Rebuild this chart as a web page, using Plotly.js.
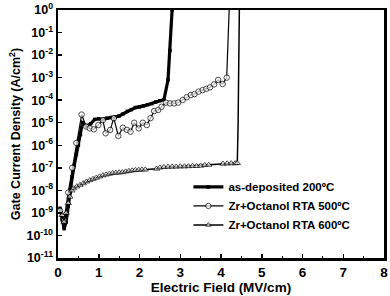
<!DOCTYPE html>
<html>
<head>
<meta charset="utf-8">
<script src="https://cdn.plot.ly/plotly-3.0.1.min.js"></script>
<style>
  html, body { margin: 0; padding: 0; background: #fff; }
  #chart { width: 390px; height: 296px; }
</style>
</head>
<body>
<div id="chart"></div>
<script>
// Gate leakage current density vs. electric field for three film treatments

// as-deposited 200 °C
const fieldAsDep = [0.05, 0.1, 0.15, 0.2, 0.25, 0.3, 0.35, 0.4, 0.45, 0.5, 0.55, 0.6, 0.7, 0.8, 0.9, 1.0,
  1.1, 1.2, 1.3, 1.4, 1.5, 1.6, 1.7, 1.8, 1.9, 2.0, 2.1, 2.2, 2.3, 2.4, 2.5, 2.6, 2.7, 2.75, 2.8];
const jAsDep = [1.6e-9, 5e-10, 2e-10, 4e-10, 2e-9, 1e-8, 4e-8, 1.3e-7, 4e-7, 1e-6, 3e-6, 1e-5, 7e-6, 9e-6, 1.4e-5, 1.5e-5,
  1.4e-5, 1.6e-5, 1.7e-5, 1.8e-5, 2e-5, 2.5e-5, 3.2e-5, 3.8e-5, 4.7e-5, 5e-5, 5.6e-5, 6.3e-5, 7e-5, 8.3e-5, 9.5e-5, 1.05e-4, 8e-4, 1.6e-2, 1];

// Zr+Octanol RTA 500 °C
const field500 = [0.05, 0.15, 0.25, 0.35, 0.45, 0.58, 0.69, 0.78, 0.88, 0.99, 1.10, 1.17, 1.28, 1.37, 1.48, 1.59,
  1.69, 1.78, 1.87, 1.98, 2.08, 2.18, 2.27, 2.36, 2.46, 2.54, 2.65, 2.75, 2.85, 2.95, 3.06, 3.16, 3.26, 3.35,
  3.45, 3.55, 3.64, 3.73, 3.83, 3.93, 4.04, 4.14, 4.2];
const j500 = [1.26e-9, 5e-10, 8e-9, 1e-7, 1.26e-6, 2.3e-5, 6.8e-6, 5.6e-6, 5.1e-6, 7.9e-6, 1.3e-5, 3.4e-6, 4.8e-6, 1.6e-5, 2.6e-6, 6e-6,
  4.8e-6, 4e-6, 1e-5, 5.6e-6, 1e-5, 7.9e-6, 1.6e-5, 3.3e-5, 3.7e-5, 5.1e-5, 7.8e-5, 7.2e-5, 7.2e-5, 7.8e-5, 1.02e-4, 1.35e-4, 1.7e-4, 1.86e-4,
  2.4e-4, 2.8e-4, 3.2e-4, 3.7e-4, 5e-4, 7.9e-4, 5.2e-4, 1e-3, 1];
const marked500 = [1, 1, 1, 1, 1, 1, 1, 1, 1, 1, 1, 1, 1, 1, 1, 1, 1, 1, 1, 1, 1, 1, 1, 1, 1, 1, 1, 1, 1, 1, 1, 1, 1, 1,
  1, 1, 1, 1, 1, 1, 1, 1, 0];

// Zr+Octanol RTA 600 °C
const field600 = [0.1, 0.15, 0.2, 0.25, 0.29, 0.34, 0.38, 0.46, 0.54, 0.62, 0.70, 0.78, 0.86, 0.94, 1.02, 1.10,
  1.18, 1.26, 1.34, 1.42, 1.50, 1.58, 1.66, 1.74, 1.82, 1.90, 1.98, 2.06, 2.14, 2.22, 2.34, 2.42, 2.5, 2.6,
  2.7, 2.8, 2.9, 3.0, 3.1, 3.2, 3.3, 3.4, 3.5, 3.6, 3.7, 3.8, 3.98, 4.05, 4.15, 4.25, 4.35, 4.40, 4.42, 4.45];
const j600 = [7.9e-10, 4e-10, 1e-9, 2.7e-9, 5.2e-9, 9.8e-9, 1.23e-8, 1.48e-8, 1.74e-8, 2.04e-8, 2.45e-8, 2.8e-8, 3.2e-8, 3.6e-8, 4.1e-8, 4.6e-8,
  5e-8, 5.4e-8, 5.8e-8, 6e-8, 6.2e-8, 6.3e-8, 6.8e-8, 7.2e-8, 7.6e-8, 7.9e-8, 8.1e-8, 8.3e-8, 8.3e-8, 8.7e-8, 8.7e-8, 9.1e-8, 1.02e-7, 1.07e-7,
  1.1e-7, 1.12e-7, 1.12e-7, 1.15e-7, 1.15e-7, 1.17e-7, 1.2e-7, 1.2e-7, 1.23e-7, 1.32e-7, 1.35e-7, 1.38e-7, 1.45e-7, 1.51e-7, 1.55e-7, 1.58e-7, 1.58e-7, 1.62e-7, 1e-5, 1];
const marked600 = [1, 1, 1, 1, 1, 1, 1, 1, 1, 1, 1, 1, 1, 1, 1, 1, 1, 1, 1, 1, 1, 1, 1, 1, 1, 1, 1, 1, 1, 0, 0, 1, 1, 1,
  1, 1, 1, 1, 1, 1, 1, 1, 1, 1, 1, 0, 0, 1, 1, 1, 1, 1, 0, 0];

// Axis ticks
const xTicks = [0, 1, 2, 3, 4, 5, 6, 7, 8];
const yExponents = [-11, -10, -9, -8, -7, -6, -5, -4, -3, -2, -1, 0];

const FONT = 'Arial, "Liberation Sans", sans-serif';
const MARKER_SIZE = 5.5;

const traces = [
  {
    x: fieldAsDep, y: jAsDep, name: 'as-deposited 200ºC',
    type: 'scatter', mode: 'lines+markers',
    line: { color: '#000', width: 3.2 },
    marker: { symbol: 'square', size: 3.5, color: '#000' }
  },
  {
    x: field500, y: j500, name: 'Zr+Octanol RTA 500ºC',
    type: 'scatter', mode: 'lines+markers',
    line: { color: '#000', width: 1.2 },
    marker: { symbol: 'circle', size: marked500.map(m => m * MARKER_SIZE), color: '#fff',
              line: { color: '#000', width: 1 } }
  },
  {
    x: field600, y: j600, name: 'Zr+Octanol RTA 600ºC',
    type: 'scatter', mode: 'lines+markers',
    line: { color: '#000', width: 1.5 },
    marker: { symbol: 'triangle-up', size: marked600.map(m => m * MARKER_SIZE), color: '#fff',
              line: { color: '#000', width: 1 } }
  }
];

const layout = {
  width: 390, height: 296,
  margin: { l: 58, r: 6, t: 10, b: 38 },
  paper_bgcolor: '#fff', plot_bgcolor: '#fff',
  font: { family: FONT, color: '#000', size: 12, weight: 'bold' },
  showlegend: true,
  legend: {
    x: 0.40, y: 0.345, xanchor: 'left', yanchor: 'top',
    bgcolor: 'rgba(0,0,0,0)', borderwidth: 0,
    font: { family: FONT, size: 11.5, weight: 'bold', color: '#000' },
    itemwidth: 30, tracegroupgap: 0
  },
  xaxis: {
    range: [0, 8], tickvals: xTicks, ticktext: xTicks.map(String),
    ticks: 'inside', ticklen: 4, tickwidth: 1.5, tickcolor: '#000',
    minor: { dtick: 0.5, ticks: 'inside', ticklen: 2, tickwidth: 1.2, tickcolor: '#000' },
    showline: true, linewidth: 2.5, linecolor: '#000', mirror: true,
    showgrid: false, zeroline: false,
    tickfont: { family: FONT, size: 13.5, weight: 'bold' },
    title: { text: 'Electric Field (MV/cm)', font: { family: FONT, size: 13.5, weight: 'bold' }, standoff: 2 }
  },
  yaxis: {
    type: 'log', range: [-11, 0],
    tickvals: yExponents.map(e => Math.pow(10, e)),
    ticktext: yExponents.map(e => '10<sup>' + e + '</sup>'),
    ticks: 'inside', ticklen: 4, tickwidth: 1.5, tickcolor: '#000',
    showline: true, linewidth: 2.5, linecolor: '#000', mirror: true,
    showgrid: false, zeroline: false,
    tickfont: { family: FONT, size: 12.5, weight: 'bold' },
    title: { text: 'Gate Current Density (A/cm<sup>2</sup>)', font: { family: FONT, size: 12.5, weight: 'bold' }, standoff: 3 }
  }
};

Plotly.newPlot('chart', traces, layout, { displayModeBar: false, staticPlot: true });
</script>
</body>
</html>
